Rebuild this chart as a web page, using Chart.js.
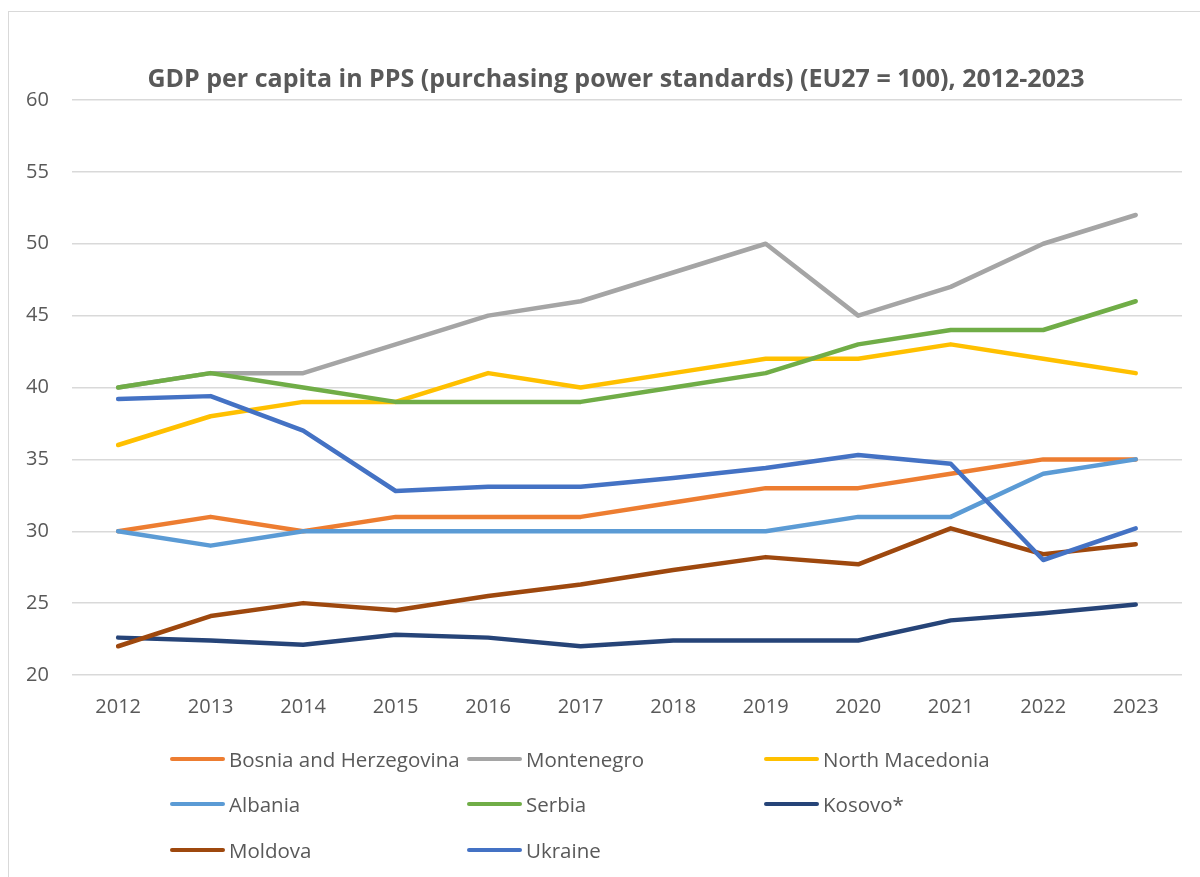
<!DOCTYPE html>
<html>
<head>
<meta charset="utf-8">
<script src="https://cdn.jsdelivr.net/npm/chart.js@4"></script>
<style>
  body { margin: 0; background: #fff; font-family: "Open Sans", sans-serif; }
  #wrap { position: relative; width: 1200px; height: 877px; overflow: hidden; }
  #frame { position: absolute; left: 8px; top: 11px; width: 1300px; height: 1000px; border: 1px solid #d9d9d9; box-sizing: border-box; }
  #chart { position: absolute; left: 0; top: 0; }
  #title { position: absolute; left: 616px; top: 62px; transform: translateX(-50%); font-size: 25px; font-weight: bold; color: #595959; white-space: nowrap; line-height: 30px; }
  #legend { position: absolute; left: 0; top: 0; }
  .item { position: absolute; display: flex; align-items: center; font-size: 20.5px; color: #595959; white-space: nowrap; line-height: 24px; }
  .swatch { width: 55px; height: 4px; border-radius: 2px; margin-right: 4px; }
</style>
</head>
<body>
<div id="wrap">
  <div id="frame"></div>
  <canvas id="chart" width="1200" height="877"></canvas>
  <div id="title">GDP per capita in PPS (purchasing power standards) (EU27 = 100), 2012-2023</div>
  <div id="legend"></div>
</div>
<script>
const years = ['2012','2013','2014','2015','2016','2017','2018','2019','2020','2021','2022','2023'];

const bosnia = [30, 31, 30, 31, 31, 31, 32, 33, 33, 34, 35, 35];
const montenegro = [40, 41, 41, 43, 45, 46, 48, 50, 45, 47, 50, 52];
const northMacedonia = [36, 38, 39, 39, 41, 40, 41, 42, 42, 43, 42, 41];
const albania = [30, 29, 30, 30, 30, 30, 30, 30, 31, 31, 34, 35];
const serbia = [40, 41, 40, 39, 39, 39, 40, 41, 43, 44, 44, 46];
const kosovo = [22.6, 22.4, 22.1, 22.8, 22.6, 22.0, 22.4, 22.4, 22.4, 23.8, 24.3, 24.9];
const moldova = [22.0, 24.1, 25.0, 24.5, 25.5, 26.3, 27.3, 28.2, 27.7, 30.2, 28.4, 29.1];
const ukraine = [39.2, 39.4, 37.0, 32.8, 33.1, 33.1, 33.7, 34.4, 35.3, 34.7, 28.0, 30.2];

const series = [
  { label: 'Bosnia and Herzegovina', data: bosnia, color: '#ED7D31' },
  { label: 'Montenegro', data: montenegro, color: '#A5A5A5' },
  { label: 'North Macedonia', data: northMacedonia, color: '#FFC000' },
  { label: 'Albania', data: albania, color: '#5B9BD5' },
  { label: 'Serbia', data: serbia, color: '#70AD47' },
  { label: 'Kosovo*', data: kosovo, color: '#264478' },
  { label: 'Moldova', data: moldova, color: '#9E480E' },
  { label: 'Ukraine', data: ukraine, color: '#4472C4' }
];

const fontFamily = '"Open Sans", sans-serif';
const grey = '#595959';

new Chart(document.getElementById('chart'), {
  type: 'line',
  data: {
    labels: years,
    datasets: series.map((s, i) => ({
      label: s.label,
      data: s.data,
      borderColor: s.color,
      backgroundColor: s.color,
      borderWidth: 4.5,
      pointRadius: 0,
      tension: 0,
      borderCapStyle: 'round',
      borderJoinStyle: 'round',
      order: -i
    }))
  },
  options: {
    responsive: false,
    animation: false,
    layout: { padding: { top: 100, left: 3, right: 18, bottom: 146 } },
    plugins: {
      legend: { display: false },
      tooltip: { enabled: false },
      title: { display: false }
    },
    scales: {
      x: {
        offset: true,
        grid: { display: false },
        border: { display: false },
        ticks: { color: grey, font: { family: fontFamily, size: 20 }, padding: 12, maxRotation: 0 }
      },
      y: {
        min: 20,
        max: 60,
        ticks: { stepSize: 5, color: grey, font: { family: fontFamily, size: 20 }, padding: 23 },
        grid: { color: '#d9d9d9', lineWidth: 1.5, drawTicks: false },
        border: { display: false }
      }
    }
  }
});

// legend laid out in three columns like the original
const legend = document.getElementById('legend');
const cols = [170, 467, 764];
const rows = [759, 804, 850];
series.forEach((s, i) => {
  const div = document.createElement('div');
  div.className = 'item';
  div.style.left = cols[i % 3] + 'px';
  div.style.top = (rows[Math.floor(i / 3)] - 12) + 'px';
  div.innerHTML = `<span class="swatch" style="background:${s.color}"></span>${s.label}`;
  legend.appendChild(div);
});
</script>
</body>
</html>
